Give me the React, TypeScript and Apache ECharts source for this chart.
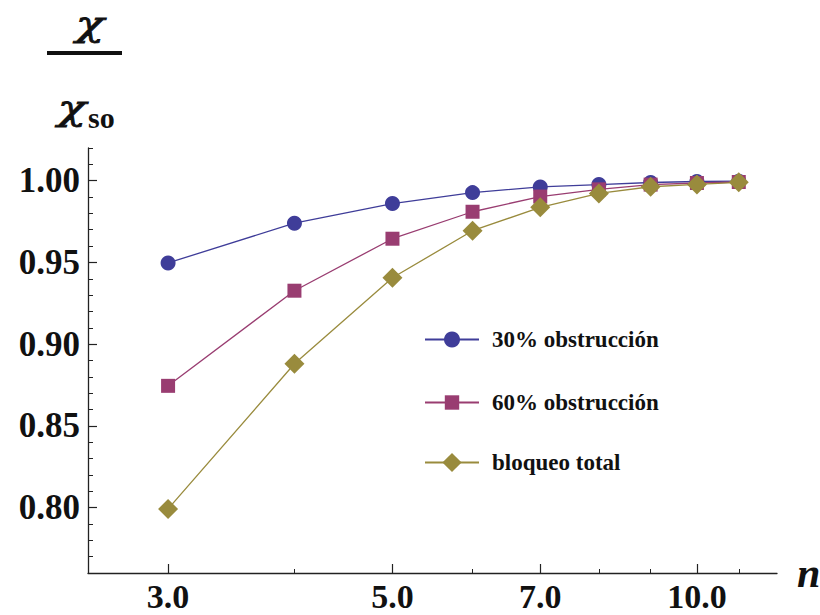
import React, { useEffect, useRef } from "react";
import * as echarts from "echarts";

// Number of modes n (log axis)
const nValues = [3, 4, 5, 6, 7, 8, 9, 10, 11];

// Ratio chi / chi_so for each obstruction case
const obstruction30 = [0.9497, 0.974, 0.986, 0.9927, 0.9962, 0.9976, 0.9989, 0.9995, 0.9997];
const obstruction60 = [0.8745, 0.9327, 0.9645, 0.981, 0.9903, 0.9947, 0.9976, 0.9986, 0.9992];
const fullBlock = [0.7992, 0.888, 0.9406, 0.9694, 0.9837, 0.9922, 0.9963, 0.9977, 0.999];

const seriesNames = ["30% obstrucción", "60% obstrucción", "bloqueo total"];

// Axis ticks
const xMajorTicks = [3, 5, 7, 10];
const xMinorTicks = [4, 6, 8, 9, 11];
const yMajorTicks = [0.8, 0.85, 0.9, 0.95, 1.0];
const yMinorTicks = [
  0.76, 0.77, 0.78, 0.79, 0.81, 0.82, 0.83, 0.84, 0.86, 0.87, 0.88, 0.89,
  0.91, 0.92, 0.93, 0.94, 0.96, 0.97, 0.98, 0.99, 1.01, 1.02,
];

const COLORS = ["#3f3d99", "#993d71", "#998b3d"];
const SERIF = "'Liberation Serif', 'Times New Roman', serif";
const GREEK = "'DejaVu Serif', 'Liberation Serif', serif";
const AXIS_COLOR = "#222";

export default function App() {
  const ref = useRef<HTMLDivElement>(null);

  useEffect(() => {
    if (!ref.current) return;
    const chart = echarts.init(ref.current, undefined, { renderer: "svg" });

    const xBase = {
      type: "log" as const,
      logBase: 10,
      min: 2.5,
      max: 12,
      gridIndex: 0,
      splitLine: { show: false },
      minorTick: { show: false },
    };
    const yBase = {
      type: "value" as const,
      min: 0.76,
      max: 1.02,
      gridIndex: 0,
      splitLine: { show: false },
    };

    const toData = (vals: number[]) => nValues.map((n, i) => [n, vals[i]]);

    const legendBase = {
      orient: "vertical" as const,
      left: 419,
      itemWidth: 54,
      itemGap: 0,
      textStyle: {
        fontFamily: SERIF,
        fontWeight: "bold" as const,
        fontSize: 23,
        color: "#111",
        padding: [0, 0, 0, 8],
      },
    };

    const chiStyle = {
      text: "χ",
      font: `italic 36px ${GREEK}`,
      lineHeight: 30,
      fill: "#111",
      align: "center" as const,
      verticalAlign: "middle" as const,
      stroke: "#111",
      lineWidth: 0.8,
    };

    chart.setOption({
      animation: false,
      backgroundColor: "#fff",
      grid: {
        left: 88,
        top: 148,
        right: 43,
        bottom: 42,
        outerBoundsMode: "none",
      },
      xAxis: [
        {
          ...xBase,
          name: "n",
          nameLocation: "end",
          nameGap: 20,
          nameTextStyle: {
            fontFamily: SERIF,
            fontStyle: "italic",
            fontWeight: "bold",
            fontSize: 42,
            lineHeight: 42,
            color: "#111",
            verticalAlign: "middle",
            padding: [0, 0, 6, 0],
          },
          axisLine: { show: true, lineStyle: { color: AXIS_COLOR, width: 1.3 } },
          axisTick: {
            show: true,
            inside: true,
            length: 9,
            customValues: xMajorTicks,
            lineStyle: { color: AXIS_COLOR, width: 1.2 },
          },
          axisLabel: {
            show: true,
            customValues: xMajorTicks,
            formatter: (v: number) => Number(v).toFixed(1),
            margin: 8,
            fontFamily: SERIF,
            fontWeight: "bold",
            fontSize: 34,
            lineHeight: 30,
            color: "#111",
          },
        },
        {
          ...xBase,
          position: "bottom",
          axisLine: { show: false },
          axisTick: {
            show: true,
            inside: true,
            length: 4,
            customValues: xMinorTicks,
            lineStyle: { color: AXIS_COLOR, width: 1 },
          },
          axisLabel: { show: false },
        },
      ],
      yAxis: [
        {
          ...yBase,
          axisLine: { show: true, lineStyle: { color: AXIS_COLOR, width: 1.3 } },
          axisTick: {
            show: true,
            inside: true,
            length: 9,
            customValues: yMajorTicks,
            lineStyle: { color: AXIS_COLOR, width: 1.2 },
          },
          axisLabel: {
            show: true,
            customValues: yMajorTicks,
            formatter: (v: number) => Number(v).toFixed(2),
            margin: 8,
            fontFamily: SERIF,
            fontWeight: "bold",
            fontSize: 35,
            color: "#111",
          },
        },
        {
          ...yBase,
          position: "left",
          axisLine: { show: false },
          axisTick: {
            show: true,
            inside: true,
            length: 5,
            customValues: yMinorTicks,
            lineStyle: { color: AXIS_COLOR, width: 1 },
          },
          axisLabel: { show: false },
        },
      ],
      legend: [
        { ...legendBase, top: 323, itemHeight: 20, data: [seriesNames[0]] },
        { ...legendBase, top: 386, itemHeight: 18, data: [seriesNames[1]] },
        { ...legendBase, top: 446, itemHeight: 24, data: [seriesNames[2]] },
      ],
      series: [
        {
          name: seriesNames[0],
          type: "line",
          data: toData(obstruction30),
          symbol: "circle",
          symbolSize: 15,
          color: COLORS[0],
          lineStyle: { width: 1.3, color: COLORS[0] },
          itemStyle: { color: COLORS[0] },
        },
        {
          name: seriesNames[1],
          type: "line",
          data: toData(obstruction60),
          symbol: "rect",
          symbolSize: 14,
          color: COLORS[1],
          lineStyle: { width: 1.3, color: COLORS[1] },
          itemStyle: { color: COLORS[1] },
        },
        {
          name: seriesNames[2],
          type: "line",
          data: toData(fullBlock),
          symbol: "diamond",
          symbolSize: 20,
          color: COLORS[2],
          lineStyle: { width: 1.3, color: COLORS[2] },
          itemStyle: { color: COLORS[2] },
        },
      ],
      graphic: [
        { type: "text", x: 90, y: 23, scaleX: 1.3, style: chiStyle },
        {
          type: "rect",
          shape: { x: 47, y: 51, width: 75, height: 4 },
          style: { fill: "#111" },
        },
        { type: "text", x: 72, y: 107, scaleX: 1.3, style: chiStyle },
        {
          type: "text",
          x: 88,
          y: 117,
          style: {
            text: "so",
            font: `bold 30px ${SERIF}`,
            fill: "#111",
            align: "left",
            verticalAlign: "middle",
          },
        },
      ],
    });

    return () => chart.dispose();
  }, []);

  return (
    <div
      ref={ref}
      style={{ position: "fixed", left: 0, top: 0, width: 820, height: 615 }}
    />
  );
}
